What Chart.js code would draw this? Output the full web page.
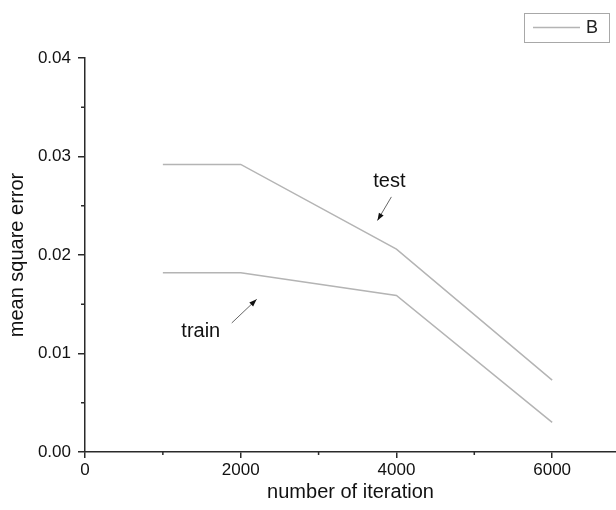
<!DOCTYPE html>
<html>
<head>
<meta charset="utf-8">
<script src="https://cdn.jsdelivr.net/npm/chart.js@4.4.0/dist/chart.umd.min.js"></script>
<style>
  html, body { margin: 0; padding: 0; background: #fff; }
  #wrap { width: 616px; height: 510px; }
</style>
</head>
<body>
<div id="wrap"><canvas id="chart"></canvas></div>
<script>
// data
const iterations = [1000, 2000, 4000, 6000];
const trainError = [0.0182, 0.0182, 0.0159, 0.0030];
const testError = [0.0292, 0.0292, 0.0206, 0.0073];
const xTickValues = [0, 2000, 4000, 6000];
const xMinorValues = [1000, 3000, 5000];
const yTickValues = [0, 0.01, 0.02, 0.03, 0.04];
const yMinorValues = [0.005, 0.015, 0.025, 0.035];
const legendLabel = 'B';

// text notes with their arrows, in data units
const notes = [
  { text: 'test', x: 3910, y: 0.0275, from: [3935, 0.0259], to: [3756, 0.0235] },
  { text: 'train', x: 1487, y: 0.0122, from: [1885, 0.0131], to: [2205, 0.0155] }
];

const lineColor = '#b4b4b4';
const axisColor = '#2a2a2a';
const font = 'Liberation Sans, Arial, sans-serif';

const minorTicks = {
  id: 'minorTicks',
  afterDraw(chart) {
    const ctx = chart.ctx;
    const x = chart.scales.x, y = chart.scales.y;
    ctx.save();
    ctx.strokeStyle = axisColor;
    ctx.lineWidth = 1.5;
    ctx.beginPath();
    xMinorValues.forEach(v => {
      const px = x.getPixelForValue(v);
      ctx.moveTo(px, y.bottom);
      ctx.lineTo(px, y.bottom + 3);
    });
    yMinorValues.forEach(v => {
      const py = y.getPixelForValue(v);
      ctx.moveTo(x.left, py);
      ctx.lineTo(x.left - 4, py);
    });
    ctx.stroke();
    ctx.restore();
  }
};

const notesPlugin = {
  id: 'notes',
  afterDraw(chart) {
    const ctx = chart.ctx;
    const x = chart.scales.x, y = chart.scales.y;
    ctx.save();
    notes.forEach(n => {
      ctx.fillStyle = '#111';
      ctx.font = '20px ' + font;
      ctx.textAlign = 'center';
      ctx.textBaseline = 'middle';
      ctx.fillText(n.text, x.getPixelForValue(n.x), y.getPixelForValue(n.y));
      const x1 = x.getPixelForValue(n.from[0]), y1 = y.getPixelForValue(n.from[1]);
      const x2 = x.getPixelForValue(n.to[0]), y2 = y.getPixelForValue(n.to[1]);
      ctx.strokeStyle = '#666';
      ctx.lineWidth = 1;
      ctx.beginPath();
      ctx.moveTo(x1, y1);
      ctx.lineTo(x2, y2);
      ctx.stroke();
      const a = Math.atan2(y2 - y1, x2 - x1);
      ctx.fillStyle = '#111';
      ctx.beginPath();
      ctx.moveTo(x2, y2);
      ctx.lineTo(x2 - 8 * Math.cos(a - 0.35), y2 - 8 * Math.sin(a - 0.35));
      ctx.lineTo(x2 - 8 * Math.cos(a + 0.35), y2 - 8 * Math.sin(a + 0.35));
      ctx.closePath();
      ctx.fill();
    });
    ctx.restore();
  }
};

const legendBox = {
  id: 'legendBox',
  afterDraw(chart) {
    const ctx = chart.ctx;
    ctx.save();
    ctx.strokeStyle = '#a8a8a8';
    ctx.lineWidth = 1;
    ctx.strokeRect(524.5, 13.5, 85, 29);
    ctx.strokeStyle = lineColor;
    ctx.lineWidth = 1.5;
    ctx.beginPath();
    ctx.moveTo(533, 27.5);
    ctx.lineTo(580, 27.5);
    ctx.stroke();
    ctx.fillStyle = '#222';
    ctx.font = '18px ' + font;
    ctx.textAlign = 'left';
    ctx.textBaseline = 'middle';
    ctx.fillText(legendLabel, 586, 28);
    ctx.restore();
  }
};

new Chart(document.getElementById('chart'), {
  type: 'line',
  data: {
    datasets: [
      {
        label: 'train',
        data: iterations.map((v, i) => ({ x: v, y: trainError[i] })),
        borderColor: lineColor,
        borderWidth: 1.5,
        pointRadius: 0,
        tension: 0
      },
      {
        label: 'test',
        data: iterations.map((v, i) => ({ x: v, y: testError[i] })),
        borderColor: lineColor,
        borderWidth: 1.5,
        pointRadius: 0,
        tension: 0
      }
    ]
  },
  options: {
    responsive: true,
    maintainAspectRatio: false,
    animation: false,
    layout: { padding: { top: 58, right: 0, bottom: 0, left: 0 } },
    plugins: {
      legend: { display: false },
      tooltip: { enabled: false }
    },
    scales: {
      x: {
        type: 'linear',
        min: 0,
        max: 6820,
        afterBuildTicks: s => { s.ticks = xTickValues.map(v => ({ value: v })); },
        afterFit: s => { s.height = 58; },
        border: { color: axisColor, width: 1.5 },
        grid: { drawOnChartArea: false, drawTicks: true, tickLength: 6, color: axisColor, lineWidth: 1.5 },
        ticks: { color: '#111', font: { family: font, size: 17 }, padding: 2, maxRotation: 0, callback: v => String(v) },
        title: { display: true, text: 'number of iteration', color: '#111', font: { family: font, size: 20 }, padding: { top: 6, bottom: 6 } }
      },
      y: {
        type: 'linear',
        min: 0,
        max: 0.04,
        afterBuildTicks: s => { s.ticks = yTickValues.map(v => ({ value: v })); },
        afterFit: s => { s.width = 85; },
        border: { color: axisColor, width: 1.5 },
        grid: { drawOnChartArea: false, drawTicks: true, tickLength: 7, color: axisColor, lineWidth: 1.5 },
        ticks: { color: '#111', font: { family: font, size: 17 }, padding: 7, callback: v => v.toFixed(2) },
        title: { display: true, text: 'mean square error', color: '#111', font: { family: font, size: 20 }, padding: { top: 5, bottom: 5 } }
      }
    }
  },
  plugins: [minorTicks, notesPlugin, legendBox]
});
</script>
</body>
</html>
